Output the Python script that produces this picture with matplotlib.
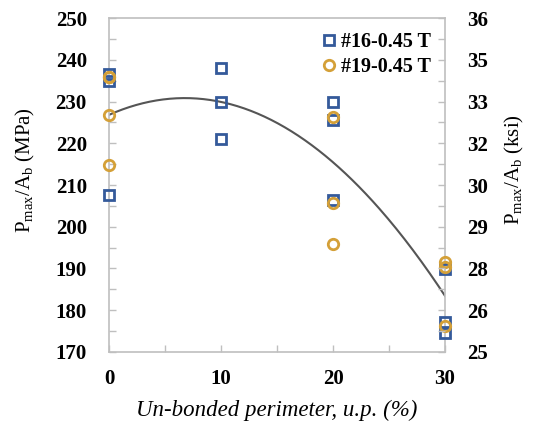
import numpy as np
import matplotlib
matplotlib.use("Agg")
import matplotlib.pyplot as plt

plt.rcParams['font.family'] = ['Liberation Serif', 'DejaVu Serif']
plt.rcParams['mathtext.fontset'] = 'custom'
plt.rcParams['mathtext.rm'] = 'Liberation Serif'
plt.rcParams['mathtext.it'] = 'Liberation Serif:italic'

# un-bonded perimeter (%) and Pmax/Ab (MPa)
x16 = [0, 0, 0, 10, 10, 10, 20, 20, 20, 30, 30, 30]
y16 = [236.5, 234.8, 207.6, 238.0, 230.0, 220.9, 230.0, 225.6, 206.3, 189.9, 177.3, 174.6]
x19 = [0, 0, 0, 0, 20, 20, 20, 30, 30, 30]
y19 = [235.8, 226.8, 214.8, 235.8, 226.2, 205.6, 195.9, 191.6, 190.4, 176.2]

# poly trendline (2nd order): c2, c1, c0
trend_coef = [-0.0878, 1.188, 226.8]

yticks = [170, 180, 190, 200, 210, 220, 230, 240, 250]
ksi_labels = ["25", "26", "28", "29", "30", "32", "33", "35", "36"]
xticks = [0, 10, 20, 30]

blue = "#345A9A"
gold = "#D4A038"
grey = "#BFBFBF"

fig = plt.figure(figsize=(5.33, 4.25), dpi=100)
ax = fig.add_axes([0.2045, 0.1718, 0.6305, 0.7858])

ax.plot(x16, y16, linestyle='none', marker='s', ms=7.5, mfc='none', mec=blue, mew=2,
        label='#16-0.45 T', zorder=3, clip_on=False)
ax.plot(x19, y19, linestyle='none', marker='o', ms=7.5, mfc='none', mec=gold, mew=2,
        label='#19-0.45 T', zorder=3, clip_on=False)

xx = np.linspace(0, 30, 200)
ax.plot(xx, np.polyval(trend_coef, xx), color='#555555', lw=1.5, zorder=2)

ax.set_xlim(0, 30)
ax.set_ylim(170, 250)
ax.set_xticks(xticks)
ax.set_xticks([5, 15, 25], minor=True)
ax.set_yticks(yticks)
ax.set_yticks(np.arange(175, 250, 10), minor=True)
ax.tick_params(which='both', direction='in', color=grey, length=5, width=1)
ax.tick_params(axis='y', labelsize=15, pad=16)
ax.tick_params(axis='x', labelsize=15, pad=12)
for lb in ax.get_xticklabels() + ax.get_yticklabels():
    lb.set_fontweight('bold')
for s in ax.spines.values():
    s.set_color(grey)
    s.set_linewidth(1.2)

ax2 = ax.twinx()
ax2.set_ylim(170, 250)
ax2.set_yticks(yticks)
ax2.set_yticklabels(ksi_labels)
ax2.set_yticks(np.arange(175, 250, 10), minor=True)
ax2.tick_params(which='both', direction='in', color=grey, length=5, width=1)
ax2.tick_params(axis='y', labelsize=15, pad=16)
for lb in ax2.get_yticklabels():
    lb.set_fontweight('bold')
for s in ax2.spines.values():
    s.set_visible(False)

ax.set_ylabel(r'P$_{\rm max}$/A$_{\rm b}$ (MPa)', fontsize=15)
ax.yaxis.set_label_coords(-0.214, 0.545)
ax2.set_ylabel(r'P$_{\rm max}$/A$_{\rm b}$ (ksi)', fontsize=15)
ax2.yaxis.set_label_coords(1.173, 0.545)
ax.set_xlabel('Un-bonded perimeter, u.p. (%)', fontsize=16.5, style='italic', labelpad=8)

leg = ax.legend(loc='upper right', frameon=False, fontsize=14.5, handletextpad=0.1,
                handlelength=1.0, borderaxespad=0.3, labelspacing=0.25)
for t in leg.get_texts():
    t.set_fontweight('bold')

fig.savefig('out.png', dpi=100)
